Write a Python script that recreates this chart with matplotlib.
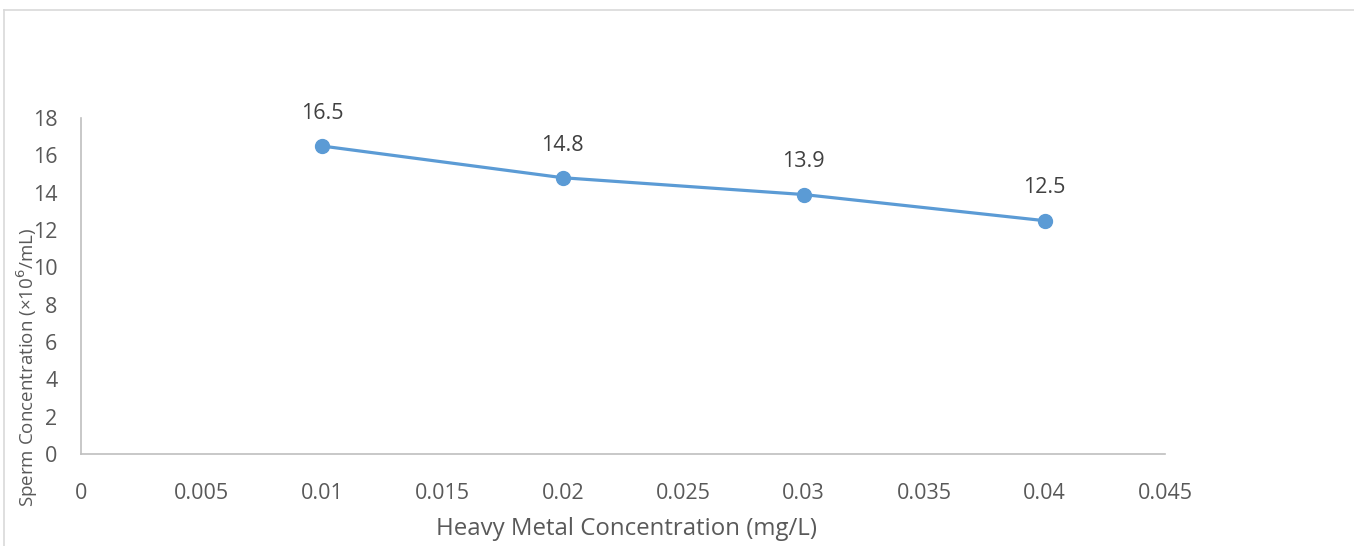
import matplotlib
matplotlib.use("Agg")
import matplotlib.pyplot as plt
from matplotlib.lines import Line2D

x_vals = [0.01, 0.02, 0.03, 0.04]
y_vals = [16.5, 14.8, 13.9, 12.5]
x_ticks = [0, 0.005, 0.01, 0.015, 0.02, 0.025, 0.03, 0.035, 0.04, 0.045]
x_tick_labels = ["0", "0.005", "0.01", "0.015", "0.02", "0.025", "0.03", "0.035", "0.04", "0.045"]
y_ticks = [0, 2, 4, 6, 8, 10, 12, 14, 16, 18]
x_label = "Heavy Metal Concentration (mg/L)"
y_label = "Sperm Concentration (×10$^{6}$/mL)"

plt.rcParams['font.family'] = ['Open Sans', 'DejaVu Sans']

W, H = 1354, 546
fig = plt.figure(figsize=(W / 100, H / 100), dpi=100)
ax = fig.add_axes([81 / W, 1 - 454 / H, (1165 - 81) / W, (454 - 118) / H])

line_color = "#5B9BD5"
ax.plot(x_vals, y_vals, color=line_color, linewidth=2.3, marker="o",
        markersize=10, markerfacecolor=line_color, markeredgecolor=line_color)
for xv, yv in zip(x_vals, y_vals):
    ax.annotate(f"{yv}", (xv, yv), xytext=(0, 16), textcoords="offset points",
                ha="center", va="bottom", fontsize=15.5, color="#404040")

ax.set_xlim(0, 0.045)
ax.set_ylim(0, 18)
ax.set_xticks(x_ticks)
ax.set_xticklabels(x_tick_labels)
ax.set_yticks(y_ticks)
ax.tick_params(axis="both", length=0, labelsize=15.5, labelcolor="#595959")
ax.tick_params(axis="x", pad=21)
ax.tick_params(axis="y", pad=17)
for s in ["top", "right"]:
    ax.spines[s].set_visible(False)
for s in ["left", "bottom"]:
    ax.spines[s].set_color("#BFBFBF")
    ax.spines[s].set_linewidth(1.2)

fig.text(626 / W, 1 - 529 / H, x_label, ha="center", va="center",
         fontsize=17.3, color="#595959")
fig.text(27 / W, 1 - 367 / H, y_label, ha="center", va="center",
         rotation=90, fontsize=13.5, color="#595959")

# chart border
fig.add_artist(Line2D([4 / W, 1], [1 - 10 / H, 1 - 10 / H], transform=fig.transFigure,
                      color="#D9D9D9", linewidth=1.2))
fig.add_artist(Line2D([4 / W, 4 / W], [0, 1 - 10 / H], transform=fig.transFigure,
                      color="#D9D9D9", linewidth=1.2))

fig.savefig("out.png", dpi=100)
